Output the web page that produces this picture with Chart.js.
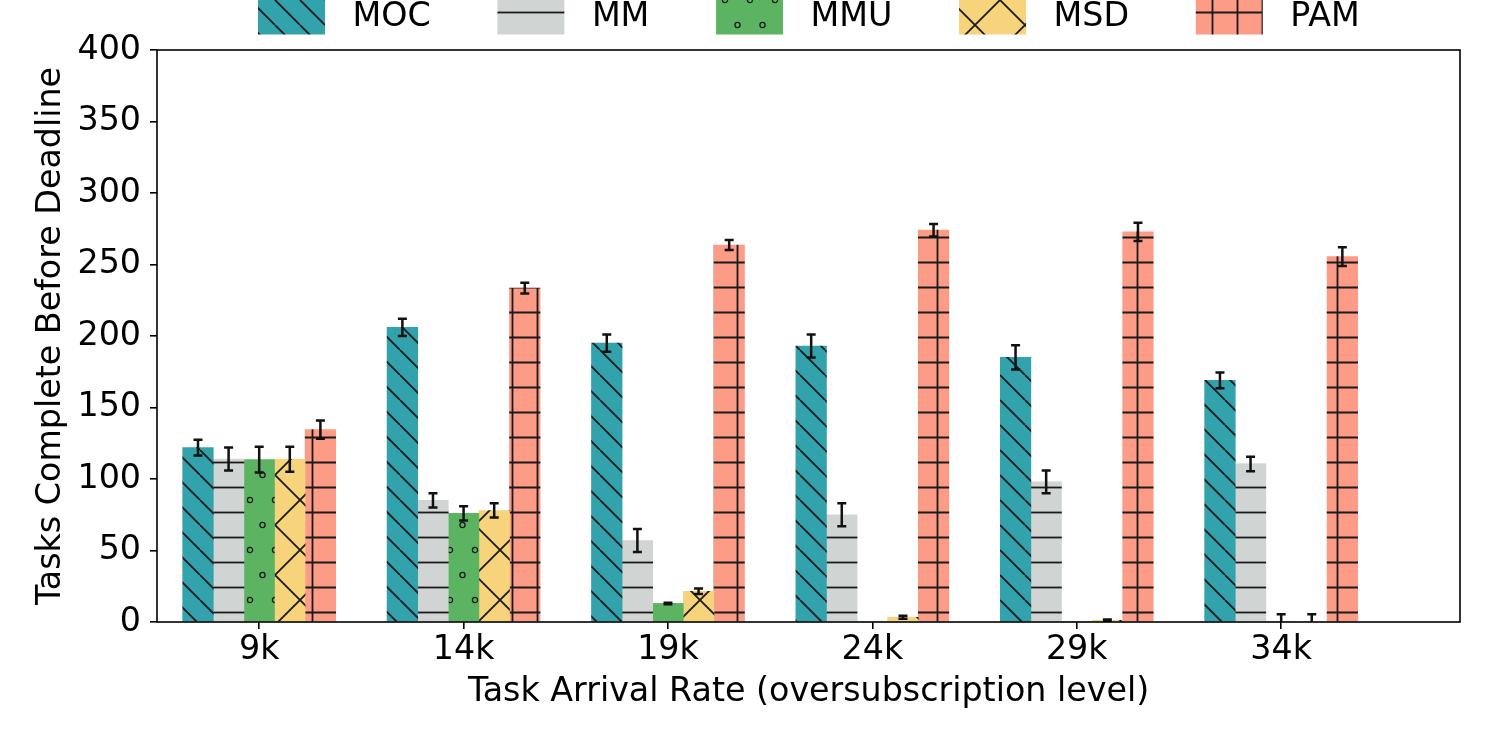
<!DOCTYPE html>
<html>
<head>
<meta charset="utf-8">
<script src="https://cdn.jsdelivr.net/npm/chart.js@4.4.0/dist/chart.umd.min.js"></script>
<style>
  html, body { margin: 0; padding: 0; background: #fff; }
</style>
</head>
<body>
<canvas id="myChart" width="1500" height="750"></canvas>
<script>
// arrival rates on the x axis
const categories = ['9k', '14k', '19k', '24k', '29k', '34k'];

// tasks completed before deadline
const moc    = [122, 206, 195, 193, 185, 169];
const mocErr = [5.5, 6, 6, 8, 8.5, 5.5];
const mm     = [114, 85, 57, 75, 98, 110.5];
const mmErr  = [8, 5, 8, 8, 8, 5];
const mmu    = [113.5, 76, 13, 0, 0, 0];
const mmuErr = [9, 5, 0.5, 0, 0, 5.4];
const msd    = [113.8, 78, 21.5, 3.3, 1.2, 0];
const msdErr = [8.7, 5, 2, 1, 0.5, 5.4];
const pam    = [134.5, 233.5, 263.6, 274, 272.8, 255.5];
const pamErr = [6.4, 3.8, 3.5, 4.4, 6.4, 6.5];

const yTicks = [0, 50, 100, 150, 200, 250, 300, 350, 400];

const FS = 33.3; // 16pt at 150 dpi

const ctx = document.getElementById('myChart');
const g2d = ctx.getContext('2d');

// matplotlib-like hatch fills, tiles anchored on the canvas origin
function hatch(color, w, h, draw) {
  const c = document.createElement('canvas');
  c.width = w; c.height = h;
  const g = c.getContext('2d');
  g.fillStyle = color;
  g.fillRect(0, 0, w, h);
  g.strokeStyle = '#1a1a1a';
  g.lineWidth = 1.8;
  draw(g, w, h);
  return g2d.createPattern(c, 'repeat');
}

const patMOC = hatch('#32a2ad', 25, 25, (g) => {
  g.beginPath();
  for (const k of [-25, 0, 25]) { g.moveTo(k, 0); g.lineTo(k + 25, 25); }
  g.stroke();
});
const patMM = hatch('#d0d5d3', 25, 25, (g) => {
  g.beginPath(); g.moveTo(0, 12.5); g.lineTo(25, 12.5); g.stroke();
});
const patMMU = hatch('#5cb463', 25, 50, (g) => {
  g.lineWidth = 1.3;
  for (const [cx, cy] of [[0, 0], [25, 0], [0, 50], [25, 50], [12.5, 25]]) {
    g.beginPath(); g.arc(cx, cy, 2.6, 0, Math.PI * 2); g.stroke();
  }
});
const patMSD = hatch('#f7d37c', 50, 50, (g) => {
  g.beginPath();
  for (const k of [-50, 0, 50]) {
    g.moveTo(k, 0); g.lineTo(k + 50, 50);
    g.moveTo(k + 50, 0); g.lineTo(k, 50);
  }
  g.stroke();
});
const patPAM = hatch('#fc9b86', 25, 25, (g) => {
  g.beginPath();
  g.moveTo(12.5, 0); g.lineTo(12.5, 25);
  g.moveTo(0, 12.5); g.lineTo(25, 12.5);
  g.stroke();
});

const toPoints = (arr) => arr.map((v, i) => ({x: i, y: v}));

const errorBars = {
  id: 'errorBars',
  afterDatasetsDraw(chart) {
    const {ctx, chartArea: a, scales: {y}} = chart;
    ctx.save();
    ctx.beginPath();
    ctx.rect(a.left, a.top, a.right - a.left, a.bottom - a.top);
    ctx.clip();
    ctx.strokeStyle = '#111';
    ctx.lineWidth = 2.5;
    chart.data.datasets.forEach((ds, i) => {
      const meta = chart.getDatasetMeta(i);
      meta.data.forEach((bar, j) => {
        const v = ds.data[j].y, e = ds.errors[j];
        if (!e) return;
        const t = y.getPixelForValue(v + e), b = y.getPixelForValue(v - e);
        ctx.beginPath();
        ctx.moveTo(bar.x, t); ctx.lineTo(bar.x, b);
        ctx.moveTo(bar.x - 4.5, t); ctx.lineTo(bar.x + 4.5, t);
        ctx.moveTo(bar.x - 4.5, b); ctx.lineTo(bar.x + 4.5, b);
        ctx.stroke();
      });
    });
    ctx.restore();
  },
  afterDraw(chart) {
    const {ctx, chartArea: a} = chart;
    ctx.save();
    // axes box
    ctx.strokeStyle = '#000';
    ctx.lineWidth = 1.6;
    ctx.strokeRect(a.left, a.top, a.right - a.left, a.bottom - a.top);
    // legend, cut off by the top edge like the original
    ctx.font = FS + 'px "DejaVu Sans"';
    ctx.textBaseline = 'alphabetic';
    let x = 258;
    chart.data.datasets.forEach(ds => {
      ctx.fillStyle = ds.backgroundColor;
      ctx.fillRect(x, -12, 67, 46.5);
      ctx.fillStyle = '#000';
      ctx.fillText(ds.label, x + 94.5, 25.5);
      x += 94.5 + ctx.measureText(ds.label).width + 66.7;
    });
    ctx.restore();
  }
};

Chart.defaults.font.family = '"DejaVu Sans"';
Chart.defaults.font.size = FS;
Chart.defaults.color = '#000';

const cfg = {
  type: 'bar',
  data: {
    datasets: [
      {label: 'MOC', data: toPoints(moc), errors: mocErr, backgroundColor: patMOC},
      {label: 'MM',  data: toPoints(mm),  errors: mmErr,  backgroundColor: patMM},
      {label: 'MMU', data: toPoints(mmu), errors: mmuErr, backgroundColor: patMMU},
      {label: 'MSD', data: toPoints(msd), errors: msdErr, backgroundColor: patMSD},
      {label: 'PAM', data: toPoints(pam), errors: pamErr, backgroundColor: patPAM},
    ]
  },
  options: {
    responsive: false,
    animation: false,
    layout: {padding: {top: 50, right: 40, left: 0, bottom: 0}},
    datasets: {bar: {barThickness: 30.6, grouped: true, borderWidth: 0}},
    plugins: {legend: {display: false}, tooltip: {enabled: false}},
    scales: {
      x: {
        type: 'linear',
        min: -0.5,
        max: 5.875,
        offset: false,
        afterFit: (s) => { s.height = 128; },
        afterBuildTicks: (s) => { s.ticks = categories.map((c, i) => ({value: i})); },
        ticks: {callback: (v) => categories[v], padding: 1, maxRotation: 0, autoSkip: false},
        grid: {offset: false, drawOnChartArea: false, drawTicks: true, tickLength: 7, color: '#000', lineWidth: 1.6},
        border: {display: false},
        title: {display: true, text: 'Task Arrival Rate (oversubscription level)', padding: {bottom: 38}}
      },
      y: {
        min: 0,
        max: 400,
        afterFit: (s) => { s.width = 157; },
        afterBuildTicks: (s) => { s.ticks = yTicks.map(v => ({value: v})); },
        ticks: {padding: 9},
        grid: {drawOnChartArea: false, drawTicks: true, tickLength: 7, color: '#000', lineWidth: 1.6},
        border: {display: false},
        title: {display: true, text: 'Tasks Complete Before Deadline', padding: {top: 31}}
      }
    }
  },
  plugins: [errorBars]
};

new Chart(ctx, cfg);
</script>
</body>
</html>
